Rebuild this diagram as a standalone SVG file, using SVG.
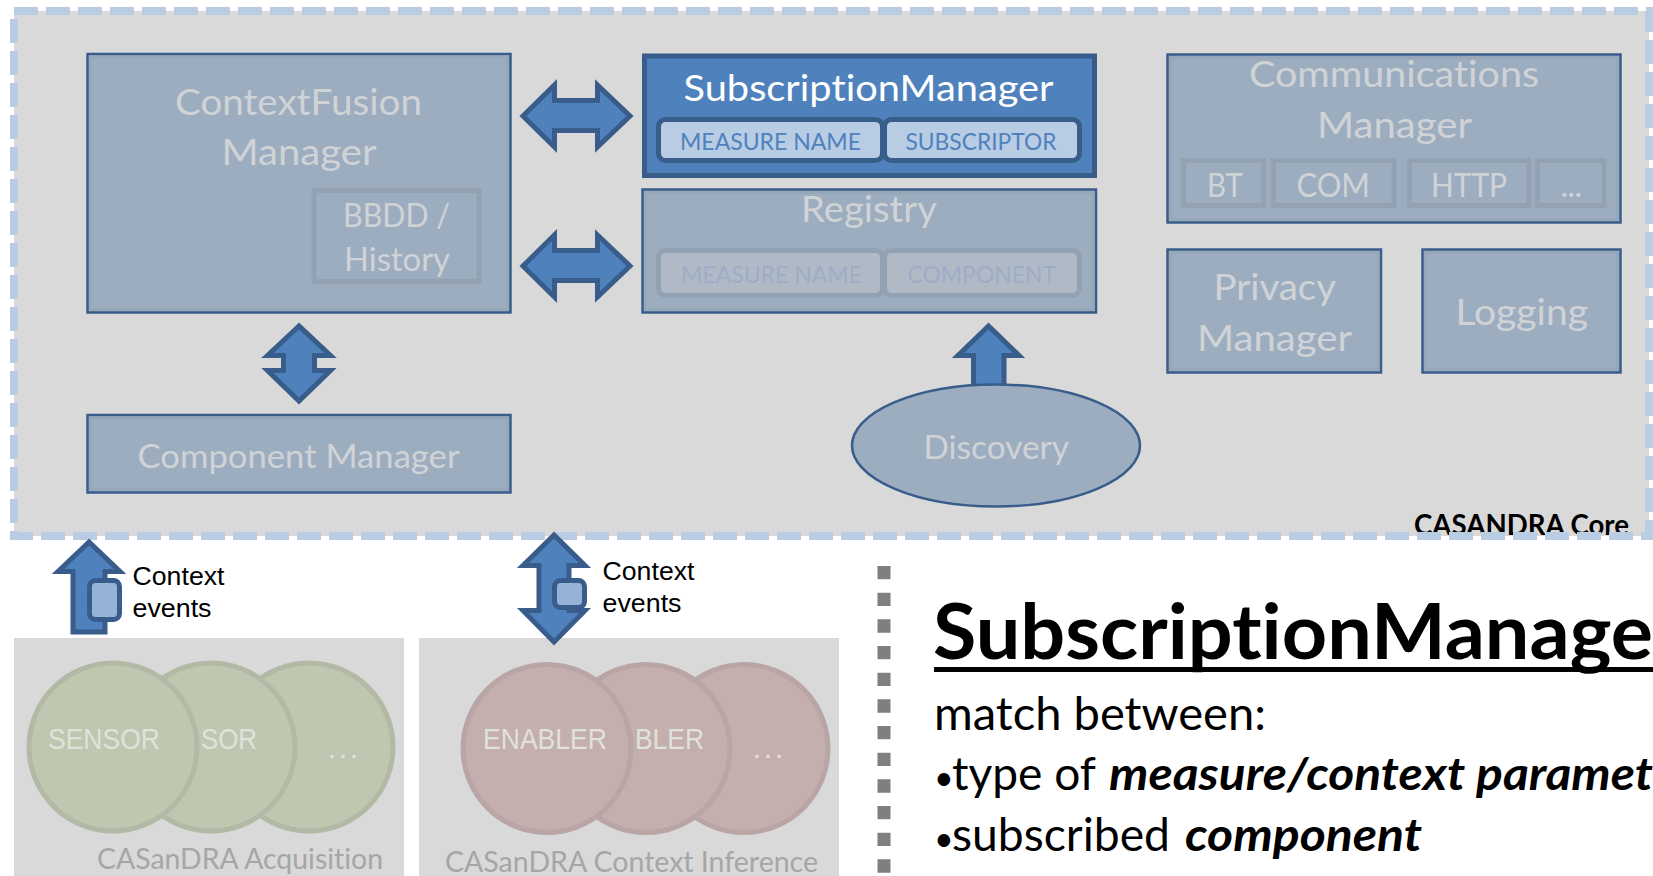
<svg xmlns="http://www.w3.org/2000/svg" width="1653" height="876" viewBox="0 0 1653 876">
<style>
text{font-family:Lato,"Open Sans","Liberation Sans",sans-serif;font-variant-ligatures:none}
.a{font-family:"Liberation Sans",Arial,sans-serif}
.box{fill:#9dadc0;stroke:#385d8a;stroke-width:2.5}
.in{fill:none;stroke:#97a7ba;stroke-width:3}
.sub{fill:#9dadc0;stroke:#93a2b3;stroke-width:5}
.g{fill:#d0d3d6}
.t{font-size:37px}
.m{font-size:32px}
.arrow{fill:#4f81bd;stroke:#385d8a;stroke-width:5;stroke-miterlimit:6}
.chip{fill:#95b3d7;stroke:#385d8a;stroke-width:5}
.bp{fill:#b8cce4;stroke:#385d8a;stroke-width:5}
.gp{fill:#b0bac7;stroke:#93a2b3;stroke-width:5}
.pan{fill:#d9d9d9}
.gc{fill:#bfc7b0;stroke:#b2b9a5;stroke-width:5}
.rc{fill:#c4aeae;stroke:#b9a5a5;stroke-width:5}
.wt{fill:#e0e2dc;font-size:29px;font-family:"Liberation Sans",Arial,sans-serif}
.lab{fill:#a6a6a6;font-size:29px}
.blk{fill:#000;font-size:25px}
.body{fill:#000;font-size:46px}
.bi{font-weight:700;font-style:italic}
</style>
<g id="core">
<rect x="14" y="11" width="1635" height="525" fill="#d9d9d9"/>
<text x="1414" y="535" textLength="215" lengthAdjust="spacingAndGlyphs" font-size="29" font-weight="700" fill="#000">CASANDRA Core</text>
<rect x="14" y="11" width="1635" height="525" fill="none" stroke="#b8cce4" stroke-width="8" stroke-dasharray="24 8"/>
</g>
<g id="acquisition">
<rect class="pan" x="14" y="638" width="390" height="238"/>
<circle class="gc" cx="309" cy="747" r="84"/><circle class="gc" cx="211" cy="747" r="84"/>
<text class="wt" x="201" y="749" textLength="56" lengthAdjust="spacingAndGlyphs">SOR</text>
<circle class="gc" cx="113" cy="747" r="84"/>
<text class="wt" x="48" y="749" textLength="112" lengthAdjust="spacingAndGlyphs">SENSOR</text>
<text class="wt" x="328" y="758" textLength="30" lengthAdjust="spacing">...</text>
<text class="lab" x="97" y="869" textLength="286" lengthAdjust="spacingAndGlyphs">CASanDRA Acquisition</text>
</g>
<g id="inference">
<rect class="pan" x="419" y="638" width="420" height="238"/>
<circle class="rc" cx="744" cy="748.500" r="84"/><circle class="rc" cx="646" cy="748.500" r="84"/>
<text class="wt" x="635" y="749" textLength="69" lengthAdjust="spacingAndGlyphs">BLER</text>
<circle class="rc" cx="547" cy="748.500" r="84"/>
<text class="wt" x="483" y="749" textLength="124" lengthAdjust="spacingAndGlyphs">ENABLER</text>
<text class="wt" x="753" y="758" textLength="30" lengthAdjust="spacing">...</text>
<text class="lab" x="445" y="872" textLength="373" lengthAdjust="spacingAndGlyphs">CASanDRA Context Inference</text>
</g>
<g id="connectors">
<polygon class="arrow" points="523,116 554.500,85 554.500,100.500 597.500,100.500 597.500,85 630,116 597.500,147 597.500,130.500 554.500,130.500 554.500,147"/>
<polygon class="arrow" points="523,266 554.500,235 554.500,250.500 597.500,250.500 597.500,235 630,266 597.500,297 597.500,280.500 554.500,280.500 554.500,297"/>
<polygon class="arrow" points="299,326 267.500,355.500 283.500,355.500 283.500,370.500 267.500,370.500 299,401 330.500,370.500 314.500,370.500 314.500,355.500 330.500,355.500"/>
<polygon class="arrow" points="988.500,326 958,355.500 973.500,355.500 973.500,392 1004,392 1004,355.500 1019,355.500"/>
<polygon class="arrow" points="89,542 58,571.500 73,571.500 73,632 105,632 105,571.500 120,571.500"/>
<rect class="chip" x="89.500" y="580.500" width="30" height="39" rx="6"/>
<polygon class="arrow" points="554,535 523,565.500 539,565.500 539,610.500 523,610.500 554,642 585,610.500 569,610.500 569,565.500 585,565.500"/>
<rect class="chip" x="554.500" y="580.500" width="30" height="27" rx="6"/>
</g>
<g id="context-events-1">
<text class="a blk" x="132.500" y="585" textLength="92" lengthAdjust="spacingAndGlyphs">Context</text>
<text class="a blk" x="132.500" y="617" textLength="79" lengthAdjust="spacingAndGlyphs">events</text>
</g>
<g id="context-events-2">
<text class="a blk" x="602.500" y="580" textLength="92" lengthAdjust="spacingAndGlyphs">Context</text>
<text class="a blk" x="602.500" y="612" textLength="79" lengthAdjust="spacingAndGlyphs">events</text>
</g>
<g id="context-fusion">
<rect class="box" x="87.500" y="54" width="423" height="258.500"/><rect class="in" x="90.500" y="57" width="417" height="252.500"/>
<text class="g t" x="175" y="115" textLength="247" lengthAdjust="spacingAndGlyphs">ContextFusion</text>
<text class="g t" x="221.500" y="165" textLength="155" lengthAdjust="spacingAndGlyphs">Manager</text>
<rect class="sub" x="314" y="190.500" width="165" height="91"/>
<text class="g m" x="343" y="227" textLength="107" lengthAdjust="spacingAndGlyphs">BBDD /</text>
<text class="g m" x="344" y="271" textLength="106" lengthAdjust="spacingAndGlyphs">History</text>
</g>
<g id="component-manager">
<rect class="box" x="87.500" y="415" width="423" height="77.500"/><rect class="in" x="90.500" y="418" width="417" height="71.500"/>
<text class="g" font-size="33" x="137.500" y="468" textLength="322" lengthAdjust="spacingAndGlyphs">Component Manager</text>
</g>
<g id="subscription-manager">
<rect x="644.500" y="56" width="450" height="119.500" fill="#4f81bd" stroke="#385d8a" stroke-width="5"/>
<text x="683.500" y="101" textLength="370" lengthAdjust="spacingAndGlyphs" font-size="37" fill="#fff">SubscriptionManager</text>
<rect class="bp" x="658.500" y="119.500" width="224" height="41" rx="7"/>
<rect class="bp" x="884.500" y="119.500" width="195" height="41" rx="7"/>
<text x="680" y="150" textLength="181" lengthAdjust="spacingAndGlyphs" font-size="24" fill="#4f81bd">MEASURE NAME</text>
<text x="905.500" y="150" textLength="151" lengthAdjust="spacingAndGlyphs" font-size="24" fill="#4f81bd">SUBSCRIPTOR</text>
</g>
<g id="registry">
<rect class="box" x="642.500" y="189.500" width="453.500" height="123"/><rect class="in" x="645.500" y="192.500" width="447.500" height="117"/>
<text class="g t" x="801" y="222" textLength="136" lengthAdjust="spacingAndGlyphs">Registry</text>
<rect class="gp" x="658.500" y="250.500" width="224" height="45" rx="7"/>
<rect class="gp" x="884.500" y="250.500" width="195" height="45" rx="7"/>
<text x="681" y="283" textLength="181" lengthAdjust="spacingAndGlyphs" font-size="24" fill="#9cadc5">MEASURE NAME</text>
<text x="907.500" y="283" textLength="148.500" lengthAdjust="spacingAndGlyphs" font-size="24" fill="#9cadc5">COMPONENT</text>
</g>
<g id="communications-manager">
<rect class="box" x="1167.500" y="54.500" width="453" height="168"/><rect class="in" x="1170.500" y="57.500" width="447" height="162"/>
<text class="g t" x="1249" y="87" textLength="290" lengthAdjust="spacingAndGlyphs">Communications</text>
<text class="g t" x="1317" y="138" textLength="155" lengthAdjust="spacingAndGlyphs">Manager</text>
<rect class="sub" x="1183.500" y="160.500" width="80" height="45"/>
<rect class="sub" x="1273.500" y="160.500" width="120.500" height="45"/>
<rect class="sub" x="1409.500" y="160.500" width="119.500" height="45"/>
<rect class="sub" x="1537.500" y="160.500" width="66.500" height="45"/>
<text class="g m" x="1207" y="197" textLength="36" lengthAdjust="spacingAndGlyphs">BT</text>
<text class="g m" x="1296.500" y="197" textLength="73.500" lengthAdjust="spacingAndGlyphs">COM</text>
<text class="g m" x="1431" y="197" textLength="76" lengthAdjust="spacingAndGlyphs">HTTP</text>
<text class="g m" x="1560.500" y="197" textLength="21.500" lengthAdjust="spacing">...</text>
</g>
<g id="privacy-manager">
<rect class="box" x="1167.500" y="249.500" width="213.500" height="123"/><rect class="in" x="1170.500" y="252.500" width="207.500" height="117"/>
<text class="g t" x="1213.500" y="300" textLength="122.500" lengthAdjust="spacingAndGlyphs">Privacy</text>
<text class="g t" x="1197" y="351" textLength="155" lengthAdjust="spacingAndGlyphs">Manager</text>
</g>
<g id="logging">
<rect class="box" x="1422.500" y="249.500" width="198" height="123"/><rect class="in" x="1425.500" y="252.500" width="192" height="117"/>
<text class="g t" x="1455.500" y="325" textLength="132.500" lengthAdjust="spacingAndGlyphs">Logging</text>
</g>
<g id="discovery">
<ellipse cx="996" cy="445.500" rx="144" ry="61" fill="#9dadc0" stroke="#385d8a" stroke-width="2.500"/>
<text class="g" font-size="33" x="923.500" y="459" textLength="145.500" lengthAdjust="spacingAndGlyphs">Discovery</text>
</g>
<line x1="884" y1="566" x2="884" y2="876" stroke="#7f7f7f" stroke-width="13" stroke-dasharray="13.300 13.370"/>
<g id="description">
<text x="933" y="659" textLength="720" lengthAdjust="spacingAndGlyphs" font-size="76" font-weight="700" fill="#000">SubscriptionManage</text>
<rect x="934" y="667" width="719" height="5" fill="#000"/>
<text class="body" x="934" y="730" textLength="332" lengthAdjust="spacingAndGlyphs">match between:</text>
<text class="body" y="790"><tspan x="934" font-size="34">•</tspan><tspan x="952" textLength="144" lengthAdjust="spacingAndGlyphs">type of</tspan></text>
<text class="body bi" x="1109" y="790" textLength="544" lengthAdjust="spacingAndGlyphs">measure/context paramet</text>
<text class="body" y="851"><tspan x="934" font-size="34">•</tspan><tspan x="952" textLength="218" lengthAdjust="spacingAndGlyphs">subscribed</tspan></text>
<text class="body bi" x="1185" y="851" textLength="237" lengthAdjust="spacingAndGlyphs">component</text>
</g>
</svg>
